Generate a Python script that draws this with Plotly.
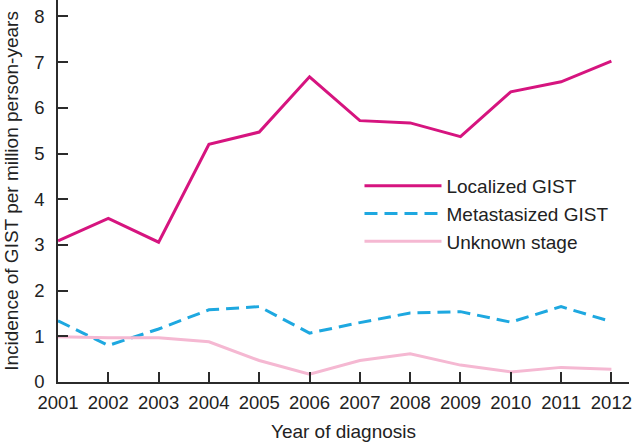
import plotly.graph_objects as go

years = list(range(2001, 2013))
localized = [3.09, 3.58, 3.06, 5.20, 5.47, 6.68, 5.72, 5.67, 5.37, 6.35, 6.57, 7.02]
metastasized = [1.34, 0.80, 1.16, 1.58, 1.65, 1.07, 1.30, 1.51, 1.54, 1.31, 1.65, 1.32]
unknown = [0.99, 0.97, 0.97, 0.88, 0.47, 0.17, 0.47, 0.62, 0.37, 0.22, 0.32, 0.28]
series_names = ["Localized GIST", "Metastasized GIST", "Unknown stage"]
y_ticks = [0, 1, 2, 3, 4, 5, 6, 7, 8]

FONT = "Liberation Sans, Arial, Helvetica, sans-serif"
AX = "#2b2b2b"

fig = go.Figure()
fig.add_trace(go.Scatter(x=years, y=localized, mode="lines", name=series_names[0],
                         line=dict(color="#d6147f", width=3)))
fig.add_trace(go.Scatter(x=years, y=metastasized, mode="lines", name=series_names[1],
                         line=dict(color="#1ea8e0", width=3, dash="13px,7px")))
fig.add_trace(go.Scatter(x=years, y=unknown, mode="lines", name=series_names[2],
                         line=dict(color="#f5b8d2", width=3)))

fig.update_layout(
    width=632, height=444,
    margin=dict(l=58, r=3, t=0, b=62, autoexpand=False),
    paper_bgcolor="white", plot_bgcolor="white",
    font=dict(family=FONT, size=19, color="#222"),
    showlegend=True,
    legend=dict(x=0.528, y=0.563, xanchor="left", yanchor="top",
                bgcolor="rgba(0,0,0,0)", itemwidth=77,
                font=dict(size=19, color="#222"), tracegroupgap=0),
)
fig.update_xaxes(
    range=[2001, 2012.35], tickvals=years, ticktext=[str(y) for y in years],
    showline=True, linecolor=AX, linewidth=1.5, mirror=False,
    ticks="inside", ticklen=10, tickwidth=1.5, tickcolor=AX,
    showgrid=False, zeroline=False, ticklabelstandoff=3, automargin=False,
    ticklabeloverflow="allow",
    title=dict(text="Year of diagnosis", standoff=13, font=dict(size=19)),
    tickfont=dict(size=18.5),
)
fig.update_yaxes(
    range=[0, 8.36], tickvals=y_ticks,
    showline=True, linecolor=AX, linewidth=1.5,
    ticks="inside", ticklen=10, tickwidth=1.5, tickcolor=AX,
    showgrid=False, zeroline=False, ticklabelstandoff=8, automargin=False,
    ticklabeloverflow="allow",
    title=dict(text="Incidence of GIST per million person-years", standoff=11, font=dict(size=19)),
    tickfont=dict(size=18.5),
)

fig.write_html("out.html", config={"displayModeBar": False},
               post_script="document.body.style.margin='0';document.body.style.padding='0';")
